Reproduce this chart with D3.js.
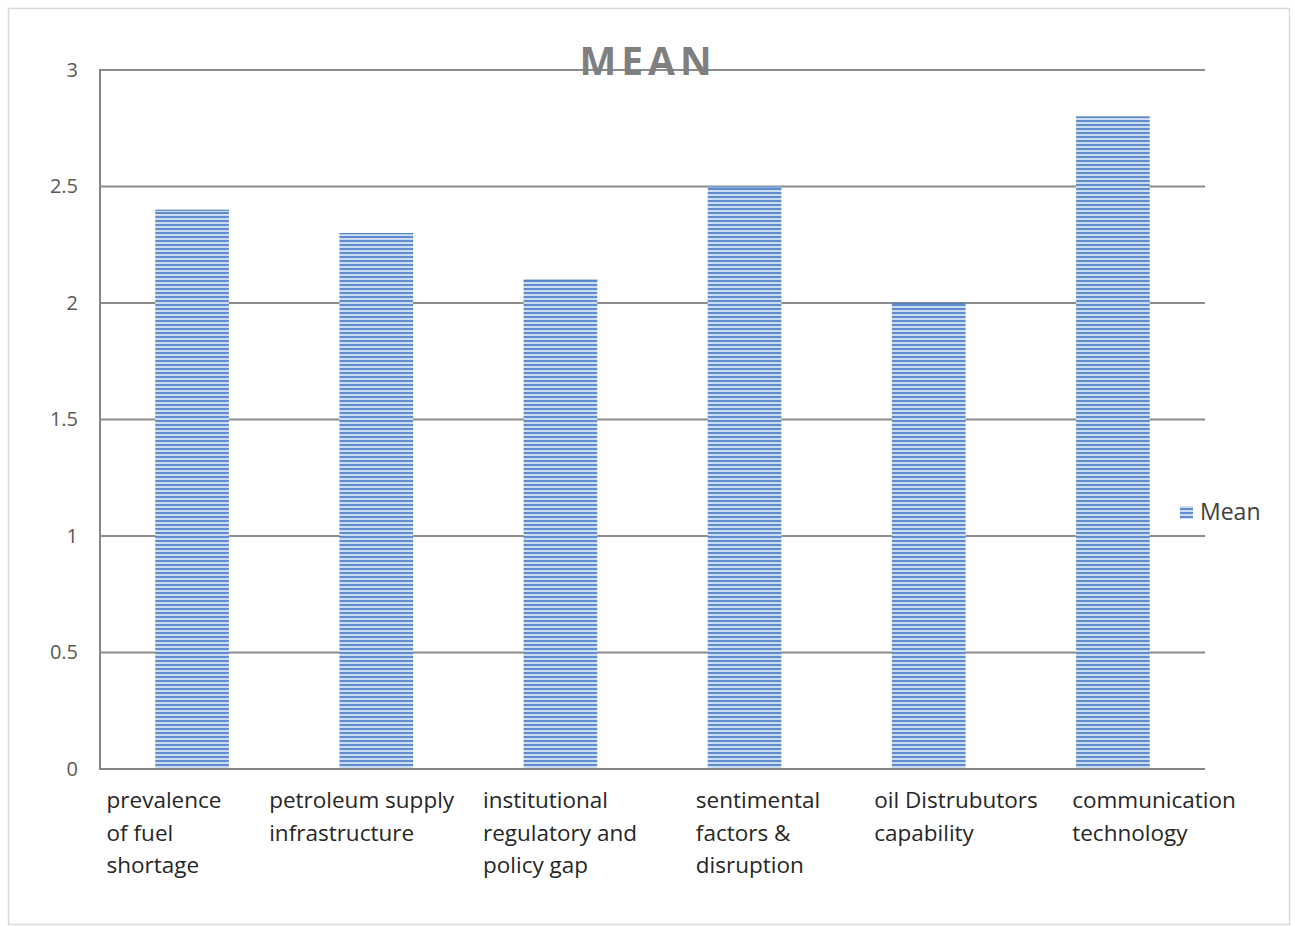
<!DOCTYPE html>
<html><head><meta charset="utf-8">
<script src="https://cdn.jsdelivr.net/npm/d3@7"></script>
<style>body{margin:0;background:#fff;} text{font-family:"Open Sans",sans-serif;}</style>
</head><body>
<svg id="c" width="1295" height="926"></svg>
<script>
const categories = [
  ["prevalence","of fuel","shortage"],
  ["petroleum supply","infrastructure"],
  ["institutional","regulatory and","policy gap"],
  ["sentimental","factors &","disruption"],
  ["oil Distrubutors","capability"],
  ["communication","technology"]
];
const meanValues = [2.4, 2.3, 2.1, 2.5, 2.0, 2.8];
const yTicks = [0, 0.5, 1, 1.5, 2, 2.5, 3];
const yTickLabels = ["0","0.5","1","1.5","2","2.5","3"];
const seriesName = "Mean";
const title = "MEAN";

const svg = d3.select("#c");
const plot = {l:100, r:1205, t:70, b:769};

const defs = svg.append("defs");
const pat = defs.append("pattern").attr("id","stripes").attr("patternUnits","userSpaceOnUse")
  .attr("width",8).attr("height",4);
pat.append("rect").attr("width",8).attr("height",4).attr("fill","#cddcf0");
pat.append("rect").attr("y",0).attr("width",8).attr("height",2).attr("fill","#5f8ed0");

svg.append("rect").attr("x",8.5).attr("y",8.5).attr("width",1281).attr("height",916)
  .attr("fill","#fff").attr("stroke","#d9d9d9").attr("stroke-width",1.5);

const x = d3.scaleBand().domain(d3.range(categories.length)).range([plot.l, plot.r]).paddingInner(0.6).paddingOuter(0.3);
const xl = d3.scaleBand().domain(d3.range(categories.length)).range([65, 1253]);
const y = d3.scaleLinear().domain([0,3]).range([plot.b, plot.t]);

svg.append("g").selectAll("line").data(yTicks.filter(t=>t>0)).join("line")
  .attr("x1",plot.l).attr("x2",plot.r).attr("y1",d=>y(d)).attr("y2",d=>y(d))
  .attr("stroke","#8c8c8c").attr("stroke-width",2);

const yAxis = d3.axisLeft(y).tickValues(yTicks).tickFormat((d,i)=>yTickLabels[i]).tickSize(0).tickPadding(22);
const ga = svg.append("g").attr("transform",`translate(${plot.l},0)`).call(yAxis);
ga.select(".domain").remove();
ga.selectAll("text").attr("font-size",20).attr("fill","#595959").attr("font-family","Open Sans");

svg.append("g").selectAll("rect").data(meanValues).join("rect")
  .attr("x",(d,i)=>x(i)).attr("width",x.bandwidth())
  .attr("y",d=>y(d)).attr("height",d=>y(0)-y(d))
  .attr("fill","url(#stripes)");
svg.append("g").selectAll("line").data(meanValues).join("line")
  .attr("x1",(d,i)=>x(i)).attr("x2",(d,i)=>x(i)+x.bandwidth())
  .attr("y1",d=>y(d)+0.5).attr("y2",d=>y(d)+0.5).attr("stroke","#4f7fc4").attr("stroke-width",1);

svg.append("line").attr("x1",plot.l).attr("x2",plot.l).attr("y1",plot.t-1).attr("y2",plot.b+1)
  .attr("stroke","#868686").attr("stroke-width",2);
svg.append("line").attr("x1",plot.l).attr("x2",plot.r).attr("y1",plot.b).attr("y2",plot.b)
  .attr("stroke","#868686").attr("stroke-width",2);

const lg = svg.append("g");
categories.forEach((lines,i)=>{
  const t = lg.append("text").attr("font-size",22.5).attr("fill","#262626");
  lines.forEach((ln,j)=>{
    t.append("tspan").attr("x",0).attr("y",plot.b+39+j*32.5).text(ln);
  });
  const w = t.node().getBBox().width;
  t.selectAll("tspan").attr("x", xl(i)+xl.bandwidth()/2 - w/2);
});

svg.append("text").attr("x",648).attr("y",75).attr("text-anchor","middle")
  .attr("font-size",39).attr("font-weight","bold").attr("letter-spacing",5)
  .attr("fill","#7f7f7f").text(title);

svg.append("rect").attr("x",1180).attr("y",506).attr("width",13).attr("height",13).attr("fill","url(#stripes)");
svg.append("text").attr("x",1200).attr("y",520).attr("font-size",23).attr("fill","#404040").text(seriesName);
</script>
</body></html>
